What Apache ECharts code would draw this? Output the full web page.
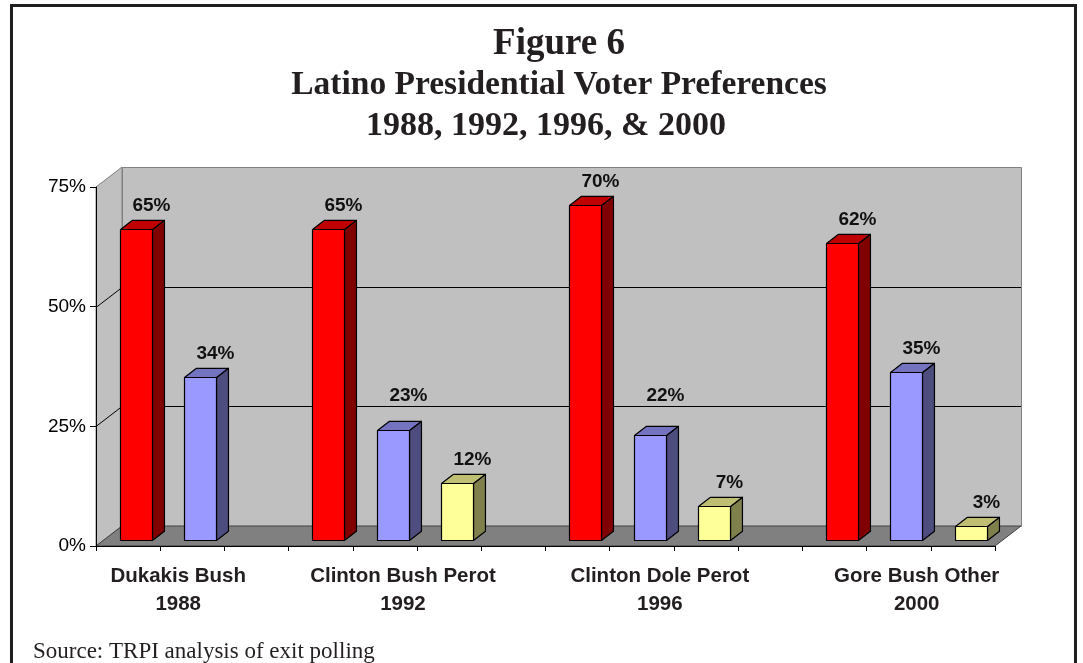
<!DOCTYPE html>
<html>
<head>
<meta charset="utf-8">
<title>Latino Presidential Voter Preferences</title>
<script src="https://cdn.jsdelivr.net/npm/echarts@6/dist/echarts.min.js"></script>
<style>
  html, body { margin: 0; padding: 0; background: #fff; }
  #chart { width: 1083px; height: 663px; }
</style>
</head>
<body>
<div id="chart"></div>
<script>
// Election years and the candidates shown for each one (in bar order)
const years = ['1988', '1992', '1996', '2000'];
const candidates = [
  ['Dukakis', 'Bush'],
  ['Clinton', 'Bush', 'Perot'],
  ['Clinton', 'Dole', 'Perot'],
  ['Gore', 'Bush', 'Other']
];
// Share of the Latino vote (%), per year
const democratShare   = [65, 65, 70, 62];
const republicanShare = [34, 23, 22, 35];
const thirdPartyShare = [null, 12, 7, 3];
// Value-axis ticks (%)
const yTicks = [0, 25, 50, 75];

// Lay the candidates out on a category axis, with an empty slot between years
const shares = [democratShare, republicanShare, thirdPartyShare];
const slotNames = [];
const groupSlots = [];
const seriesPoints = [[], [], []];
years.forEach((yr, g) => {
  const slots = [];
  candidates[g].forEach((name, k) => {
    const idx = slotNames.length;
    slotNames.push(name);
    slots.push(idx);
    seriesPoints[k].push([idx, shares[k][g]]);
  });
  groupSlots.push(slots);
  if (g < years.length - 1) slotNames.push('');
});

// 3D look: offset of the back wall, bar placement inside the depth
const DX = 26, DY = -20;
const FRONT = 0.3, BAR_DEPTH = 0.46;
const yMax = yTicks[yTicks.length - 1];
const innerTicks = yTicks.filter(v => v > 0 && v < yMax);
const crisp = v => Math.round(v) + 0.5;

const partyColors = [
  { front: '#ff0000', top: '#c00000', side: '#800000' },
  { front: '#9999ff', top: '#7373bf', side: '#4d4d80' },
  { front: '#ffff99', top: '#bfbf73', side: '#80804d' }
];

// Back wall, left side wall, floor and the wall gridlines
function renderFrame(params, api) {
  const cs = params.coordSys;
  const x0 = cs.x, x1 = cs.x + cs.width;
  const yb = api.coord([0, 0])[1];
  const yt = api.coord([0, yMax])[1];
  const children = [
    { type: 'polygon', shape: { points: [[x0, yt], [x0 + DX, yt + DY], [x0 + DX, yb + DY], [x0, yb]] },
      style: { fill: '#c0c0c0', stroke: '#808080', lineWidth: 1 } },
    { type: 'rect', shape: { x: crisp(x0 + DX), y: crisp(yt + DY), width: Math.round(x1 - x0), height: Math.round(yb - yt) },
      style: { fill: '#c0c0c0', stroke: '#808080', lineWidth: 1 } },
    { type: 'polygon', shape: { points: [[x0, yb], [x1, yb], [x1 + DX, yb + DY], [x0 + DX, yb + DY]] },
      style: { fill: '#808080', stroke: '#404040', lineWidth: 1 } }
  ];
  innerTicks.forEach(v => {
    const y = api.coord([0, v])[1];
    children.push({
      type: 'polyline',
      shape: { points: [[x0, crisp(y)], [x0 + DX, crisp(y + DY)], [x1 + DX, crisp(y + DY)]] },
      style: { stroke: '#000', lineWidth: 1, fill: null }
    });
  });
  return { type: 'group', children };
}

// One 3D column: front face, right side, top, and its value label
function makeBarRenderer(colors) {
  return function (params, api) {
    const idx = api.value(0), v = api.value(1);
    const base = api.coord([idx, 0]);
    const top = api.coord([idx, v]);
    const w = api.size([1, 0])[0] * 0.5;
    const ox = DX * FRONT, oy = DY * FRONT;
    const bx = DX * BAR_DEPTH, by = DY * BAR_DEPTH;
    const xl = Math.round(base[0] - w / 2 + ox) + 0.5;
    const xr = xl + Math.round(w);
    const yb = Math.round(base[1] + oy) + 0.5;
    const yt = Math.round(top[1] + oy) + 0.5;
    // keep the value label clear of the wall gridlines
    let ly = yt - 24;
    innerTicks.forEach(t => {
      const gy = api.coord([0, t])[1] + DY;
      if (Math.abs(ly - gy) < 10) ly = gy - 11;
    });
    const edge = { stroke: '#000', lineWidth: 1.2, lineJoin: 'round' };
    return {
      type: 'group',
      children: [
        { type: 'polygon', shape: { points: [[xr, yb], [xr + bx, yb + by], [xr + bx, yt + by], [xr, yt]] },
          style: Object.assign({ fill: colors.side }, edge) },
        { type: 'polygon', shape: { points: [[xl, yt], [xr, yt], [xr + bx, yt + by], [xl + bx, yt + by]] },
          style: Object.assign({ fill: colors.top }, edge) },
        { type: 'rect', shape: { x: xl, y: yt, width: xr - xl, height: yb - yt },
          style: Object.assign({ fill: colors.front }, edge) },
        { type: 'text',
          style: { text: v + '%', x: (xl + xr) / 2 + 15, y: ly, align: 'center', verticalAlign: 'middle',
                   font: 'bold 19px "Liberation Sans", Arial, sans-serif', fill: '#111' } }
      ]
    };
  };
}

// Two-line category caption under each election year
function renderGroupLabel(params, api) {
  const g = api.value(0);
  const xs = groupSlots[g].map(s => api.coord([s, 0])[0]);
  const cx = xs.reduce((a, b) => a + b, 0) / xs.length + 18;
  const y = api.coord([0, 0])[1] + 44;
  return {
    type: 'text',
    style: {
      text: candidates[g].join(' ') + '\n' + years[g],
      x: cx, y: y, align: 'center', verticalAlign: 'middle', lineHeight: 28,
      font: 'bold 20.5px "Liberation Sans", Arial, sans-serif', fill: '#231f20'
    }
  };
}

const series = [
  { type: 'custom', name: 'frame', renderItem: renderFrame, data: [[0, 0]], clip: false, silent: true, z: 1 }
];
seriesPoints.forEach((pts, k) => {
  series.push({
    type: 'custom', name: ['Democrat', 'Republican', 'Third party'][k],
    renderItem: makeBarRenderer(partyColors[k]),
    data: pts.filter(p => p[1] != null), clip: false, z: 3
  });
});
series.push({
  type: 'custom', name: 'captions', renderItem: renderGroupLabel,
  data: years.map((y, g) => [g, 0]), clip: false, silent: true, z: 4
});

const chart = echarts.init(document.getElementById('chart'), null, { renderer: 'canvas' });
chart.setOption({
  animation: false,
  backgroundColor: '#fff',
  grid: { left: 96, right: 88, top: 187, bottom: 117, containLabel: false },
  xAxis: {
    type: 'category', data: slotNames, boundaryGap: true, z: 10,
    axisLine: { show: true, lineStyle: { color: '#000', width: 1 } },
    axisTick: { show: true, interval: 0, length: 5, lineStyle: { color: '#000' } },
    axisLabel: { show: false }, splitLine: { show: false }
  },
  yAxis: {
    type: 'value', min: yTicks[0], max: yMax, interval: yTicks[1] - yTicks[0], z: 10,
    axisLine: { show: true, lineStyle: { color: '#000', width: 1 } },
    axisTick: { show: true, length: 6, lineStyle: { color: '#000' } },
    axisLabel: { formatter: '{value}%', fontFamily: '"Liberation Sans", Arial, sans-serif', fontSize: 19, color: '#000', margin: 10 },
    splitLine: { show: false }
  },
  graphic: [
    { type: 'rect', shape: { x: 11.5, y: 5.5, width: 1064, height: 700 },
      style: { fill: null, stroke: '#1e1e1e', lineWidth: 3 }, z: 100 },
    { type: 'text', x: 559, y: 44,
      style: { text: 'Figure 6', align: 'center', verticalAlign: 'middle',
               font: 'bold 37px "Liberation Serif", "Times New Roman", serif', fill: '#231f20' } },
    { type: 'text', x: 559, y: 85,
      style: { text: 'Latino Presidential Voter Preferences', align: 'center', verticalAlign: 'middle',
               font: 'bold 33.5px "Liberation Serif", "Times New Roman", serif', fill: '#231f20' } },
    { type: 'text', x: 546, y: 126,
      style: { text: '1988, 1992, 1996, & 2000', align: 'center', verticalAlign: 'middle',
               font: 'bold 34px "Liberation Serif", "Times New Roman", serif', fill: '#231f20' } },
    { type: 'text', x: 33, y: 652,
      style: { text: 'Source: TRPI analysis of exit polling', align: 'left', verticalAlign: 'middle',
               font: '23px "Liberation Serif", "Times New Roman", serif', fill: '#231f20' } }
  ],
  series: series
});
</script>
</body>
</html>
